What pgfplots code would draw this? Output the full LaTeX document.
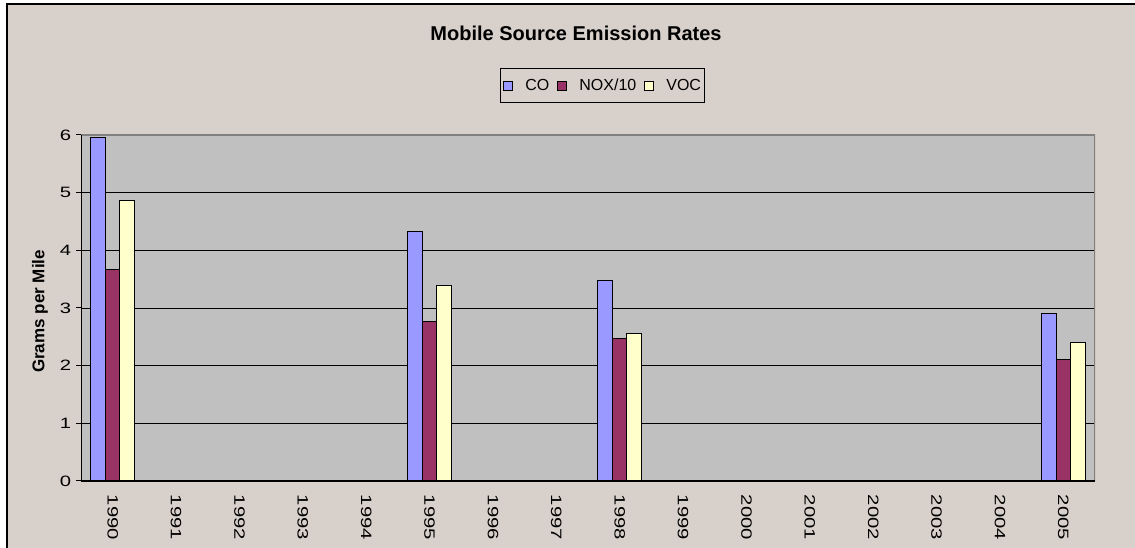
\documentclass[border=0pt]{standalone}
\usepackage{fontspec}
\setmainfont{Liberation Sans}
\usepackage{pgfplots}
\pgfplotsset{compat=1.18}
\definecolor{figbg}{RGB}{216,208,202}
\definecolor{plotbg}{RGB}{192,192,192}
\definecolor{coC}{RGB}{153,153,255}
\definecolor{noxC}{RGB}{153,51,102}
\definecolor{vocC}{RGB}{255,255,204}
\definecolor{frameG}{RGB}{128,128,128}
\begin{document}
\begin{tikzpicture}[x=1bp,y=1bp]
\fill[white] (0,0) rectangle (1135,548);
\fill[figbg] (7,0) rectangle (1135,544);
\draw[black, line width=1.5bp] (7,0) -- (7,544) -- (1135,544);
\node[font=\bfseries\fontsize{20bp}{22bp}\selectfont] at (576,515) {Mobile Source Emission Rates};
\begin{axis}[
  at={(81bp,67bp)}, anchor=south west,
  scale only axis, width=1014bp, height=346bp,
  xmin=-0.5, xmax=15.5, ymin=0, ymax=6,
  axis background/.style={fill=plotbg},
  axis line style={draw=none},
  ytick={0,...,6},
  ymajorgrids, grid style={black, line width=0.9bp},
  xtick={0,...,15},
  xticklabels={1990,1991,1992,1993,1994,1995,1996,1997,1998,1999,2000,2001,2002,2003,2004,2005},
  minor xtick={-0.5,0.5,...,15.5},
  xtick style={draw=none},
  minor x tick style={black, line width=1bp},
  y tick style={black, line width=1bp},
  tick align=outside, tick pos=left,
  major tick length=5bp, minor tick length=5bp,
  /pgf/number format/assume math mode=true,
  x tick label style={font=\fontsize{15bp}{17bp}\selectfont, rotate=-90, xscale=1.35, anchor=west, xshift=3bp},
  y tick label style={font=\fontsize{15bp}{17bp}\selectfont, xscale=1.35, anchor=east},
  ylabel={Grams per Mile},
  every axis y label/.style={at={([xshift=-41bp]axis description cs:0,0.49)}, rotate=90, anchor=center, font=\bfseries\fontsize{17bp}{19bp}\selectfont},
  legend columns=3,
  legend image code/.code={\draw[#1, line width=1bp] (0bp,-4.5bp) rectangle (9bp,4.5bp);},
  legend style={at={(axis description cs:0.514,1.143)}, anchor=center, fill=figbg, draw=black, line width=1bp,
    font=\fontsize{16bp}{18bp}\selectfont, inner xsep=3bp, inner ysep=10bp,
    nodes={inner xsep=0bp, inner ysep=0bp},
    /tikz/every odd column/.append style={column sep=12bp},
    /tikz/every even column/.append style={column sep=8bp}},
]
\addplot[ybar, bar width=0.229, bar shift=-0.229, fill=coC, draw=black, line width=1bp]
  coordinates {(0,5.95) (5,4.33) (8,3.47) (15,2.91)};
\addlegendentry{CO}
\addplot[ybar, bar width=0.229, bar shift=0, fill=noxC, draw=black, line width=1bp]
  coordinates {(0,3.66) (5,2.77) (8,2.47) (15,2.10)};
\addlegendentry{NOX/10}
\addplot[ybar, bar width=0.229, bar shift=0.229, fill=vocC, draw=black, line width=1bp]
  coordinates {(0,4.87) (5,3.39) (8,2.56) (15,2.40)};
\addlegendentry{VOC}
\draw[frameG, line width=1.5bp] (rel axis cs:0,1) -- (rel axis cs:1,1) -- (rel axis cs:1,0);
\draw[black, line width=1bp] (rel axis cs:0,1) -- (rel axis cs:0,0) -- (rel axis cs:1,0);
\end{axis}
\pgfresetboundingbox
\useasboundingbox (0,0) rectangle (1135,548);
\end{tikzpicture}
\end{document}
